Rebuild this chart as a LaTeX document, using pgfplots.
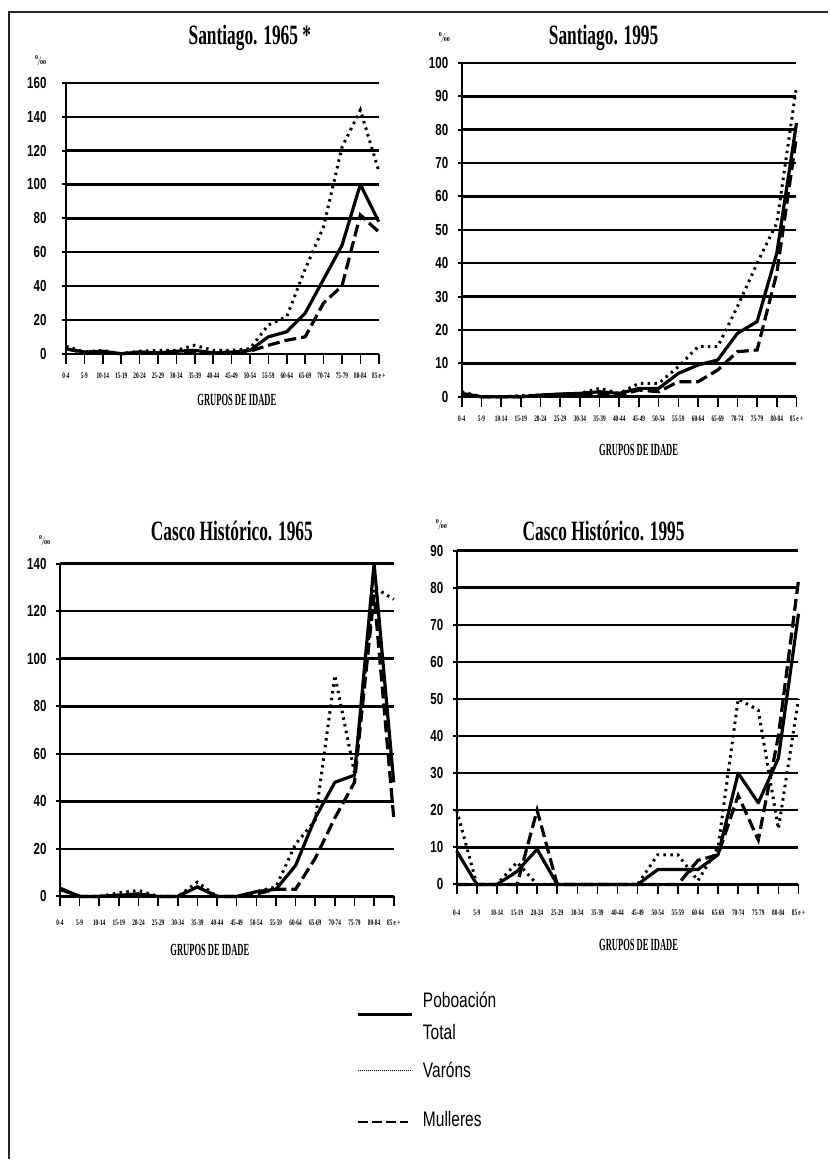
\documentclass[border=0pt]{standalone}
\usepackage{fontspec}
\usepackage{pgfplots}
\usepackage{pgfplotstable}
\pgfplotsset{compat=1.18}
\setmainfont{Liberation Serif}
\newfontfamily\titlefont[FakeStretch=0.62]{Liberation Serif}
\newfontfamily\narrowserif[FakeStretch=0.5]{Liberation Serif}
\newfontfamily\ticksans[FakeStretch=0.72]{Liberation Sans}
\newfontfamily\legfont[FakeStretch=0.74]{Liberation Sans}

% columns: age group index, total, varons, mulleres
\pgfplotstableread{
x T V M
0 3 4.5 3
1 1 1 0.5
2 1.5 2 1
3 0 0 0
4 1 1.5 1
5 0.5 2 0.5
6 1.5 2 1
7 2 5 1.5
8 0.5 2 0.5
9 1 2 1
10 2 3 1.5
11 10 17 5
12 13 22 8
13 24 50 10
14 44 75 30
15 64 122 40
16 100 144 82
17 78 108 72
}\santA
\pgfplotstableread{
x T V M
0 1 1.5 0.5
1 0 0 0
2 0 0 0
3 0 0.3 0
4 0.5 0.5 0.3
5 0.8 0.8 0.6
6 1 1 0.8
7 1.5 2.5 1
8 1 1 0.5
9 2.5 4 2
10 2.5 4 1.5
11 7 9 4.5
12 9.5 15 4.5
13 11 15 8
14 19 27 13.5
15 22.5 40 14
16 43 52 37
17 82 93 78
}\santB
\pgfplotstableread{
x T V M
0 3.5 3 3
1 0 0 0
2 0 0 0
3 0.5 1.5 0.5
4 1 2.5 1
5 0 0 0
6 0 0 0
7 4 6 4
8 0 0 0
9 0 0 0
10 2 2 1
11 3 4 3
12 13 22 3
13 33 32 16
14 48 93 33
15 51 52 48
16 140 130 127
17 48 125 33
}\cascoA
\pgfplotstableread{
x T V M
0 9 20 0
1 0 0 0
2 0 0 0
3 3.5 6 0
4 9.5 0 20
5 0 0 0
6 0 0 0
7 0 0 0
8 0 0 0
9 0 0 0
10 4 8 0
11 4 8 0
12 4 1 6.5
13 8 10 8
14 30 50 24
15 22 47 12
16 34 15 40
17 73 50 82
}\cascoB

\pgfplotsset{
  panel/.style={
    scale only axis, anchor=south west,
    axis x line=bottom, axis y line=left,
    axis line style={-, line width=2pt},
    xmin=0, xmax=17, ymin=0,
    xtick={0,...,17},
    xticklabels={0-4,5-9,10-14,15-19,20-24,25-29,30-34,35-39,40-44,45-49,50-54,55-59,60-64,65-69,70-74,75-79,80-84,85 e +},
    xtick align=outside, ytick align=outside,
    major tick length=10pt,
    xtick style={line width=1.6pt, black},
    ytick style={line width=2pt, black, xshift=6pt},
    ymajorgrids, major grid style={line width=2.5pt, black},
    clip=false,
    /pgf/number format/assume math mode=true,
    xticklabel style={font=\titlefont\bfseries\fontsize{8.5}{9}\selectfont, anchor=center},
    yticklabel style={font=\ticksans\bfseries\fontsize{16}{16}\selectfont, anchor=east},
  },
  tot/.style={black, line width=3.2pt, line join=round},
  var/.style={black, line width=3pt, dash pattern=on 2.5pt off 4.3pt},
  mul/.style={black, line width=3.2pt, dash pattern=on 12pt off 5pt},
}

\newcommand\ttl{\titlefont\bfseries\fontsize{28}{30}\selectfont}
\newcommand\xlab{\narrowserif\bfseries\fontsize{17}{18}\selectfont}
\newcommand\permil{\fontsize{9}{9}\selectfont\bfseries$^{\mathbf{0}}\!/\!_{\mathbf{00}}$}

\begin{document}
\begin{tikzpicture}[x=1pt, y=1pt]
\path (0,0) rectangle (829,1160);
\draw[line width=1.5pt, black!85] (9,0) -- (9,1148) -- (829,1148);

% Santiago 1965
\begin{axis}[panel, at={(66pt,806pt)}, width=313pt, height=271pt,
  ymax=160, ytick distance=20,
  xticklabel style={yshift=-12pt}, yticklabel style={xshift=-6pt}]
\addplot[tot] table[x=x, y=T] {\santA};
\addplot[var] table[x=x, y=V] {\santA};
\addplot[mul] table[x=x, y=M] {\santA};
\end{axis}

% Santiago 1995
\begin{axis}[panel, at={(462pt,763pt)}, width=335pt, height=334pt,
  ymax=100, ytick distance=10,
  xticklabel style={yshift=-12pt}, yticklabel style={xshift=0pt}]
\addplot[tot] table[x=x, y=T] {\santB};
\addplot[var] table[x=x, y=V] {\santB};
\addplot[mul] table[x=x, y=M] {\santB};
\end{axis}

% Casco Historico 1965
\begin{axis}[panel, at={(60pt,263pt)}, width=334pt, height=333pt,
  ymax=140, ytick distance=20,
  xticklabel style={yshift=-16pt}, yticklabel style={xshift=0pt}]
\addplot[tot] table[x=x, y=T] {\cascoA};
\addplot[var] table[x=x, y=V] {\cascoA};
\addplot[mul] table[x=x, y=M] {\cascoA};
\end{axis}

% Casco Historico 1995
\begin{axis}[panel, at={(457pt,275pt)}, width=342pt, height=334pt,
  ymax=90, ytick distance=10,
  xticklabel style={yshift=-18pt}, yticklabel style={xshift=0pt}]
\addplot[tot] table[x=x, y=T] {\cascoB};
\addplot[var] table[x=x, y=V] {\cascoB};
\addplot[mul] table[x=x, y=M] {\cascoB};
\end{axis}

% titles
\node[anchor=base] at (250,1115) {\ttl Santiago. 1965 *};
\node[anchor=base] at (604,1115) {\ttl Santiago. 1995};
\node[anchor=base] at (232,619) {\ttl Casco Histórico. 1965};
\node[anchor=base] at (604,619) {\ttl Casco Histórico. 1995};

% axis titles
\node at (237,760) {\xlab GRUPOS DE IDADE};
\node at (639,710) {\xlab GRUPOS DE IDADE};
\node at (210,209) {\xlab GRUPOS DE IDADE};
\node at (639,214) {\xlab GRUPOS DE IDADE};

% per mille marks
\node at (41,1099) {\permil};
\node at (445,1122) {\permil};
\node at (45,619) {\permil};
\node at (442,635) {\permil};

% legend
\draw[line width=2.6pt] (358,145) -- (412,145);
\draw[line width=1.6pt, dash pattern=on 1.2pt off 0.8pt] (358,89) -- (412,89);
\draw[line width=2.2pt, dash pattern=on 10pt off 4pt] (358,37) -- (408,37);
\begin{scope}[every node/.style={anchor=base west, inner sep=0pt, font=\legfont\fontsize{21}{22}\selectfont}]
\node at (423,152) {Poboación};
\node at (423,120) {Total};
\node at (423,82) {Varóns};
\node at (423,33) {Mulleres};
\end{scope}
\end{tikzpicture}
\end{document}
